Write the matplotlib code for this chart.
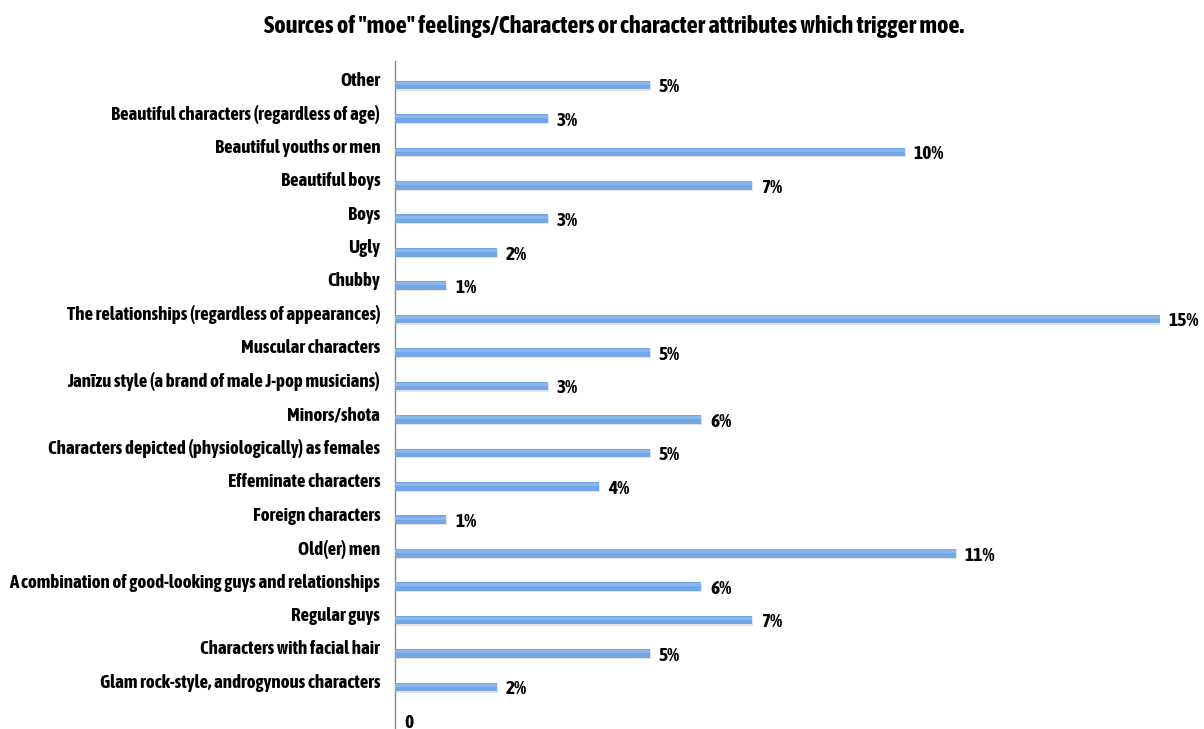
import matplotlib.pyplot as plt
import matplotlib.patheffects as pe

# Categories from bottom to top, share of respondents (%)
categorias = [
    "Glam rock-style, androgynous characters",
    "Characters with facial hair",
    "Regular guys",
    "A combination of good-looking guys and relationships",
    "Old(er) men",
    "Foreign characters",
    "Effeminate characters",
    "Characters depicted (physiologically) as females",
    "Minors/shota",
    "Janīzu style (a brand of male J-pop musicians)",
    "Muscular characters",
    "The relationships (regardless of appearances)",
    "Chubby",
    "Ugly",
    "Boys",
    "Beautiful boys",
    "Beautiful youths or men",
    "Beautiful characters (regardless of age)",
    "Other",
]
porcentajes = [2, 5, 7, 6, 11, 1, 4, 5, 6, 3, 5, 15, 1, 2, 3, 7, 10, 3, 5]

titulo = 'Sources of "moe" feelings/Characters or character attributes which trigger moe.'

plt.rcParams['font.family'] = ['Asap Condensed', 'DejaVu Sans']
plt.rcParams['font.weight'] = 'bold'

fig = plt.figure(figsize=(12.04, 7.29), dpi=100)
W, H = 1204, 729

# axes placed in pixel terms: x=0 at 395.5px, 15% at 1160px
x0, x15 = 395.5, 1160
y_top_px, y_bot_px = 60.5, 729
ax = fig.add_axes([x0 / W, 0, (x15 - x0) / W, 1 - y_top_px / H])

n = len(categorias)
paso = (687 - 85) / (n - 1)
ax.set_xlim(0, 15)
ax.set_ylim(-(y_bot_px - 687) / paso, (n - 1) + (85 - y_top_px) / paso)

y = list(range(n))
alto = 0.26
barras = ax.barh(y, porcentajes, height=alto, color='#72a6e6', edgecolor='none',
                 zorder=3)
for b in barras:
    b.set_path_effects([pe.SimplePatchShadow(offset=(0.6, -0.9), shadow_rgbFace='#c4c4c4',
                                             alpha=0.45),
                        pe.Normal()])
    # slightly lighter upper half
    ax.barh(b.get_y() + alto * 0.7, b.get_width(), height=alto * 0.35,
            color='#8ab6ec', edgecolor='none', zorder=4)

# value labels to the right of each bar
for yi, v in zip(y, porcentajes):
    ax.text(v + 0.17, yi - 0.07, f"{v}%", va='center', ha='left', fontsize=14,
            fontweight='bold', clip_on=False)

# category names, right-aligned left of the axis, a little above the bar
for yi, nombre in zip(y, categorias):
    ax.annotate(nombre, xy=(0, yi), xycoords=('axes fraction', 'data'),
                xytext=(-11, 3), textcoords='offset points',
                ha='right', va='center', fontsize=13.6, fontweight='bold')

ax.set_yticks([])
ax.set_xticks([])
ax.text(0.17, -1.08, "0", fontsize=14, fontweight='bold', ha='left', va='center')

for s in ['top', 'right', 'bottom']:
    ax.spines[s].set_visible(False)
ax.spines['left'].set_color('#8a8a8a')
ax.spines['left'].set_linewidth(1.0)

fig.text(614 / W, 1 - 27 / H, titulo, ha='center', va='center', fontsize=17.6,
         fontweight='bold')

fig.savefig('out.png', dpi=100)
